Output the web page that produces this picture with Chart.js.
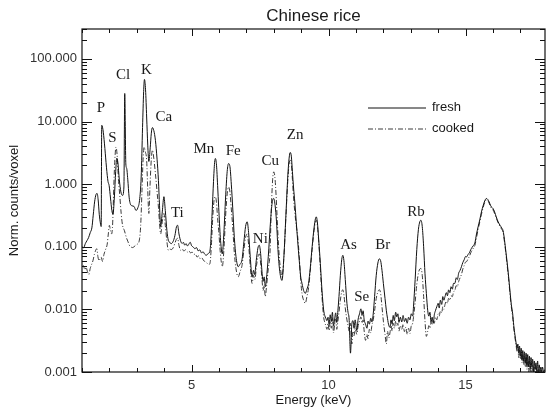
<!DOCTYPE html>
<html>
<head>
<meta charset="utf-8">
<script src="https://cdn.jsdelivr.net/npm/chart.js@4.4.1/dist/chart.umd.min.js"></script>
<style>
  body { margin: 0; background: #fff; }
  #wrap { width: 546px; height: 410px; }
</style>
</head>
<body>
<div id="wrap"><canvas id="spectrum" width="546" height="410"></canvas></div>
<script>
// fresh rice spectrum (keV, normalised counts per voxel)
const freshEnergy = [
  1.00, 1.06, 1.12, 1.18, 1.24, 1.30, 1.36, 1.41, 1.46, 1.51,
  1.55, 1.59, 1.63, 1.67, 1.70, 1.72, 1.95, 1.99, 2.04, 2.09,
  2.13, 2.18, 2.23, 2.27, 2.31, 2.36, 2.42, 2.48, 2.53, 2.56,
  2.60, 2.63, 2.67, 2.72, 2.76, 2.83, 2.90, 2.97, 3.04, 3.10,
  3.16, 3.21, 3.25, 3.28, 3.32, 3.36, 3.40, 3.44, 3.49, 3.53,
  3.57, 3.62, 3.68, 3.74, 3.79, 3.83, 3.87, 3.93, 3.99, 4.04,
  4.10, 4.15, 4.20, 4.25, 4.32, 4.39, 4.45, 4.49, 4.54, 4.61,
  4.66, 4.70, 4.75, 4.80, 4.85, 4.90, 4.95, 5.00, 5.06, 5.12,
  5.18, 5.24, 5.30, 5.36, 5.42, 5.48, 5.54, 5.60, 5.66, 5.70,
  5.75, 5.80, 5.84, 5.87, 5.91, 5.95, 5.99, 6.05, 6.12, 6.18,
  6.24, 6.30, 6.35, 6.40, 6.45, 6.50, 6.56, 6.62, 6.70, 6.76,
  6.84, 6.91, 6.97, 7.03, 7.08, 7.14, 7.21, 7.26, 7.30, 7.36,
  7.42, 7.47, 7.52, 7.57, 7.61, 7.65, 7.69, 7.73, 7.80, 7.88,
  7.94, 8.00, 8.05, 8.10, 8.16, 8.22, 8.30, 8.37, 8.44, 8.51,
  8.56, 8.60, 8.64, 8.68, 8.72, 8.77, 8.82, 8.87, 8.93, 8.98,
  9.03, 9.09, 9.15, 9.21, 9.27, 9.33, 9.40, 9.47, 9.52, 9.55,
  9.59, 9.64, 9.70, 9.76, 9.82, 9.86, 9.90, 9.94, 9.98, 10.02,
  10.06, 10.10, 10.14, 10.18, 10.22, 10.26, 10.30, 10.34, 10.38, 10.43,
  10.48, 10.52, 10.56, 10.61, 10.67, 10.71, 10.75, 10.80, 10.85, 10.89,
  10.93, 10.97, 11.03, 11.08, 11.13, 11.18, 11.22, 11.26, 11.30, 11.35,
  11.40, 11.44, 11.49, 11.54, 11.58, 11.63, 11.68, 11.74, 11.80, 11.85,
  11.90, 11.95, 12.00, 12.06, 12.11, 12.15, 12.20, 12.24, 12.28, 12.32,
  12.36, 12.40, 12.45, 12.49, 12.53, 12.57, 12.62, 12.67, 12.72, 12.77,
  12.82, 12.87, 12.92, 12.97, 13.02, 13.07, 13.10, 13.16, 13.22, 13.28,
  13.33, 13.37, 13.42, 13.47, 13.52, 13.57, 13.62, 13.66, 13.70, 13.74,
  13.78, 13.82, 13.86, 13.90, 13.95, 14.00, 14.04, 14.08, 14.13, 14.17,
  14.21, 14.25, 14.30, 14.34, 14.38, 14.43, 14.47, 14.52, 14.56, 14.61,
  14.66, 14.70, 14.75, 14.80, 14.85, 14.90, 14.95, 15.00, 15.04, 15.09,
  15.14, 15.19, 15.24, 15.29, 15.34, 15.40, 15.46, 15.52, 15.58, 15.64,
  15.70, 15.76, 15.81, 15.86, 15.91, 15.95, 16.00, 16.06, 16.12, 16.19,
  16.26, 16.32, 16.37, 16.42, 16.47, 16.52, 16.57, 16.62, 16.67, 16.72,
  16.76, 16.80, 16.84, 16.88, 16.91, 16.94, 16.97, 17.00, 17.03, 17.06,
  17.09, 17.12, 17.15, 17.18, 17.21, 17.24, 17.27, 17.30, 17.33, 17.36,
  17.39, 17.42, 17.45, 17.48, 17.51, 17.54, 17.57, 17.60, 17.63, 17.66,
  17.69, 17.72, 17.75, 17.78, 17.81, 17.85, 17.90
];
const freshCounts = [
  0.100, 0.096, 0.112, 0.125, 0.140, 0.168, 0.200, 0.32, 0.52, 0.68,
  0.71, 0.56, 0.33, 0.24, 0.21, 8.7, 1.1, 0.95, 0.60, 0.38,
  0.33, 0.60, 1.6, 2.6, 2.2, 1.2, 0.75, 0.66, 0.90, 28,
  2.1, 1.8, 1.2, 0.62, 0.49, 0.45, 0.44, 0.38, 0.42, 0.55,
  1.3, 8, 30, 47, 32, 11.8, 4.2, 2.3, 3.8, 6.5,
  8.0, 7.2, 5.0, 2.5, 1.15, 0.45, 0.21, 0.36, 0.63, 0.38,
  0.18, 0.127, 0.118, 0.112, 0.12, 0.15, 0.21, 0.22, 0.16, 0.12,
  0.113, 0.118, 0.106, 0.112, 0.103, 0.110, 0.118, 0.104, 0.099, 0.093,
  0.097, 0.086, 0.089, 0.080, 0.083, 0.076, 0.073, 0.078, 0.082, 0.12,
  0.35, 1.1, 2.2, 2.57, 2.0, 0.95, 0.42, 0.14, 0.077, 0.17,
  0.6, 1.6, 2.13, 1.9, 1.0, 0.43, 0.14, 0.07, 0.048, 0.052,
  0.062, 0.12, 0.21, 0.25, 0.17, 0.07, 0.033, 0.042, 0.036, 0.060,
  0.095, 0.106, 0.078, 0.040, 0.028, 0.033, 0.023, 0.030, 0.07, 0.25,
  0.5, 0.59, 0.45, 0.25, 0.08, 0.040, 0.029, 0.07, 0.3, 1.3,
  2.6, 3.2, 2.8, 1.6, 0.9, 0.50, 0.25, 0.127, 0.06, 0.034,
  0.026, 0.020, 0.018, 0.021, 0.026, 0.045, 0.10, 0.20, 0.28, 0.30,
  0.25, 0.13, 0.054, 0.020, 0.0098, 0.008, 0.0072, 0.0066, 0.0075, 0.0058,
  0.0082, 0.0064, 0.0090, 0.0055, 0.0070, 0.0088, 0.0062, 0.0095, 0.016, 0.035,
  0.062, 0.073, 0.060, 0.030, 0.0125, 0.0090, 0.0070, 0.0020, 0.0059, 0.0066,
  0.0050, 0.0068, 0.0046, 0.0070, 0.0085, 0.0102, 0.0080, 0.0095, 0.0068, 0.0058,
  0.0050, 0.0065, 0.0058, 0.0072, 0.0063, 0.0085, 0.016, 0.035, 0.055, 0.064,
  0.060, 0.042, 0.026, 0.0150, 0.0095, 0.0072, 0.0055, 0.0052, 0.0068, 0.0058,
  0.0080, 0.0066, 0.0090, 0.0076, 0.0085, 0.0062, 0.0075, 0.0063, 0.0080, 0.0064,
  0.0072, 0.0060, 0.0075, 0.0068, 0.0085, 0.0078, 0.0110, 0.030, 0.090, 0.19,
  0.25, 0.265, 0.21, 0.10, 0.037, 0.018, 0.0095, 0.0078, 0.0090, 0.0062,
  0.0075, 0.0060, 0.0082, 0.0095, 0.0110, 0.0125, 0.0105, 0.0140, 0.0120, 0.0160,
  0.0140, 0.0160, 0.0185, 0.0165, 0.0205, 0.0185, 0.0230, 0.0210, 0.0260, 0.026,
  0.032, 0.030, 0.038, 0.042, 0.048, 0.056, 0.062, 0.070, 0.069, 0.075,
  0.080, 0.090, 0.098, 0.105, 0.115, 0.16, 0.21, 0.27, 0.36, 0.45,
  0.54, 0.59, 0.57, 0.52, 0.46, 0.43, 0.41, 0.36, 0.30, 0.25,
  0.22, 0.20, 0.18, 0.13, 0.085, 0.055, 0.034, 0.020, 0.012, 0.0085,
  0.0055, 0.0040, 0.0030, 0.0024, 0.0028, 0.0020, 0.0026, 0.0018, 0.0024, 0.0016,
  0.0022, 0.0015, 0.0021, 0.0014, 0.0020, 0.0013, 0.0019, 0.0012, 0.0018, 0.0011,
  0.0017, 0.0012, 0.0016, 0.0010, 0.0015, 0.0011, 0.0014, 0.0010, 0.0015, 0.0010,
  0.0013, 0.0010, 0.0012, 0.0010, 0.0012, 0.0010, 0.0011
];

// cooked rice spectrum
const cookedEnergy = [
  1.00, 1.05, 1.10, 1.15, 1.20, 1.25, 1.30, 1.35, 1.40, 1.45,
  1.50, 1.54, 1.58, 1.62, 1.66, 1.70, 1.75, 1.80, 1.86, 1.92,
  1.96, 2.00, 2.04, 2.08, 2.12, 2.16, 2.20, 2.24, 2.28, 2.33,
  2.38, 2.43, 2.48, 2.55, 2.62, 2.68, 2.72, 2.78, 2.84, 2.90,
  2.96, 3.02, 3.08, 3.14, 3.19, 3.23, 3.27, 3.31, 3.36, 3.40,
  3.44, 3.48, 3.53, 3.57, 3.62, 3.68, 3.74, 3.79, 3.83, 3.87,
  3.93, 3.99, 4.04, 4.10, 4.15, 4.20, 4.26, 4.32, 4.38, 4.44,
  4.49, 4.54, 4.60, 4.66, 4.72, 4.78, 4.84, 4.90, 4.96, 5.02,
  5.08, 5.14, 5.20, 5.26, 5.32, 5.38, 5.44, 5.50, 5.56, 5.62,
  5.67, 5.72, 5.77, 5.82, 5.87, 5.91, 5.95, 5.99, 6.05, 6.12,
  6.18, 6.24, 6.30, 6.35, 6.40, 6.45, 6.50, 6.56, 6.62, 6.70,
  6.77, 6.84, 6.91, 6.97, 7.03, 7.08, 7.14, 7.21, 7.26, 7.31,
  7.37, 7.42, 7.47, 7.52, 7.57, 7.61, 7.65, 7.69, 7.73, 7.80,
  7.86, 7.91, 7.96, 8.00, 8.04, 8.09, 8.14, 8.20, 8.26, 8.30,
  8.37, 8.44, 8.51, 8.56, 8.60, 8.64, 8.68, 8.72, 8.77, 8.82,
  8.87, 8.93, 8.98, 9.03, 9.09, 9.15, 9.21, 9.27, 9.33, 9.40,
  9.47, 9.52, 9.55, 9.59, 9.64, 9.70, 9.76, 9.82, 9.86, 9.90,
  9.94, 9.98, 10.02, 10.06, 10.10, 10.14, 10.18, 10.22, 10.26, 10.30,
  10.34, 10.38, 10.43, 10.48, 10.52, 10.56, 10.61, 10.67, 10.71, 10.75,
  10.80, 10.85, 10.89, 10.93, 10.97, 11.03, 11.08, 11.13, 11.18, 11.22,
  11.26, 11.30, 11.35, 11.40, 11.44, 11.49, 11.54, 11.58, 11.63, 11.68,
  11.74, 11.80, 11.85, 11.90, 11.95, 12.00, 12.06, 12.11, 12.15, 12.20,
  12.24, 12.28, 12.32, 12.36, 12.40, 12.45, 12.49, 12.53, 12.57, 12.62,
  12.67, 12.72, 12.77, 12.82, 12.87, 12.92, 12.97, 13.02, 13.07, 13.10,
  13.16, 13.22, 13.28, 13.33, 13.37, 13.42, 13.47, 13.52, 13.57, 13.62,
  13.66, 13.70, 13.74, 13.78, 13.82, 13.86, 13.90, 13.95, 14.00, 14.04,
  14.08, 14.13, 14.17, 14.21, 14.25, 14.30, 14.34, 14.38, 14.43, 14.47,
  14.52, 14.56, 14.61, 14.66, 14.70, 14.75, 14.80, 14.85, 14.90, 14.95,
  15.00, 15.04, 15.09, 15.14, 15.19, 15.24, 15.29, 15.34, 15.40, 15.46,
  15.52, 15.58, 15.64, 15.70, 15.76, 15.81, 15.86, 15.91, 15.95, 16.00,
  16.06, 16.12, 16.19, 16.26, 16.32, 16.37, 16.42, 16.47, 16.52, 16.57,
  16.62, 16.67, 16.72, 16.76, 16.80, 16.84, 16.88, 16.91, 16.94, 16.97,
  17.00, 17.03, 17.06, 17.09, 17.12, 17.15, 17.18, 17.21, 17.24, 17.27,
  17.30, 17.33, 17.36, 17.39, 17.42, 17.45, 17.48, 17.51, 17.54, 17.57,
  17.60, 17.63, 17.66, 17.69, 17.72, 17.75, 17.78, 17.81, 17.85, 17.90
];
const cookedCounts = [
  0.048, 0.050, 0.043, 0.047, 0.040, 0.036, 0.045, 0.052, 0.060, 0.075,
  0.088, 0.093, 0.070, 0.060, 0.064, 0.068, 0.058, 0.075, 0.090, 0.11,
  0.16, 0.22, 0.18, 0.16, 0.24, 0.9, 2.5, 3.9, 3.0, 1.2,
  0.65, 0.34, 0.22, 0.18, 0.14, 0.12, 0.107, 0.10, 0.097, 0.10,
  0.106, 0.11, 0.12, 0.21, 0.8, 2.5, 3.9, 3.3, 2.4, 0.8,
  0.34, 0.9, 2.5, 3.5, 2.6, 1.47, 0.75, 0.43, 0.24, 0.16,
  0.25, 0.34, 0.22, 0.12, 0.088, 0.092, 0.090, 0.095, 0.110, 0.130,
  0.137, 0.105, 0.088, 0.092, 0.085, 0.090, 0.082, 0.086, 0.080, 0.082,
  0.075, 0.077, 0.068, 0.072, 0.064, 0.066, 0.060, 0.058, 0.055, 0.052,
  0.054, 0.10, 0.28, 0.55, 0.63, 0.50, 0.28, 0.18, 0.08, 0.048,
  0.09, 0.3, 0.7, 0.90, 0.75, 0.40, 0.21, 0.08, 0.045, 0.033,
  0.040, 0.050, 0.09, 0.14, 0.16, 0.11, 0.050, 0.026, 0.035, 0.030,
  0.050, 0.068, 0.077, 0.055, 0.030, 0.020, 0.024, 0.016, 0.022, 0.045,
  0.077, 0.4, 1.2, 1.57, 1.3, 0.6, 0.20, 0.070, 0.040, 0.033,
  0.07, 0.28, 1.1, 2.1, 2.4, 2.1, 1.2, 0.63, 0.35, 0.22,
  0.15, 0.07, 0.030, 0.018, 0.014, 0.0125, 0.016, 0.022, 0.04, 0.09,
  0.18, 0.25, 0.265, 0.22, 0.12, 0.045, 0.016, 0.0076, 0.0062, 0.0055,
  0.0048, 0.0060, 0.0046, 0.0065, 0.0050, 0.0072, 0.0042, 0.0056, 0.0070, 0.0048,
  0.0065, 0.0090, 0.014, 0.019, 0.0206, 0.017, 0.0105, 0.0068, 0.0055, 0.0045,
  0.0060, 0.0028, 0.0045, 0.0038, 0.0050, 0.0040, 0.0055, 0.0065, 0.0076, 0.0060,
  0.0068, 0.0045, 0.0032, 0.0040, 0.0034, 0.0048, 0.0042, 0.0055, 0.0068, 0.0095,
  0.015, 0.019, 0.0206, 0.018, 0.011, 0.0065, 0.0040, 0.0028, 0.0045, 0.0035,
  0.0042, 0.0055, 0.0045, 0.0060, 0.0050, 0.0065, 0.0055, 0.0060, 0.0045, 0.0055,
  0.0048, 0.0058, 0.0044, 0.0052, 0.0040, 0.0050, 0.0041, 0.0055, 0.0060, 0.0075,
  0.013, 0.025, 0.038, 0.044, 0.045, 0.035, 0.016, 0.0065, 0.0037, 0.0045,
  0.0055, 0.0050, 0.0062, 0.0058, 0.0068, 0.0060, 0.0075, 0.0068, 0.0085, 0.0078,
  0.0095, 0.0088, 0.0110, 0.0100, 0.0120, 0.0135, 0.0125, 0.0150, 0.0140, 0.0165,
  0.0160, 0.0190, 0.020, 0.024, 0.023, 0.028, 0.032, 0.036, 0.044, 0.050,
  0.057, 0.058, 0.064, 0.070, 0.080, 0.088, 0.096, 0.105, 0.14, 0.19,
  0.25, 0.33, 0.42, 0.51, 0.56, 0.55, 0.50, 0.44, 0.41, 0.39,
  0.34, 0.29, 0.24, 0.21, 0.19, 0.17, 0.12, 0.080, 0.050, 0.031,
  0.018, 0.011, 0.0075, 0.0050, 0.0036, 0.0028, 0.0021, 0.0025, 0.0017, 0.0023,
  0.0016, 0.0021, 0.0014, 0.0019, 0.0013, 0.0018, 0.0012, 0.0017, 0.0011, 0.0016,
  0.0010, 0.0015, 0.0010, 0.0014, 0.0010, 0.0013, 0.0009, 0.0012, 0.0009, 0.0012,
  0.0009, 0.0011, 0.0009, 0.0011, 0.0009, 0.0010, 0.0009, 0.0010, 0.0009, 0.0010
];

// element labels: where each name sits (energy, counts)
const elementNames = ['P', 'S', 'Cl', 'K', 'Ca', 'Ti', 'Mn', 'Fe', 'Ni', 'Cu', 'Zn', 'As', 'Se', 'Br', 'Rb'];
const labelEnergy = [1.69, 2.11, 2.50, 3.35, 3.99, 4.48, 5.45, 6.52, 7.51, 7.87, 8.78, 10.73, 11.21, 11.98, 13.19];
const labelCounts = [16.3, 5.5, 55, 66, 11.6, 0.347, 3.6, 3.4, 0.135, 2.35, 6.0, 0.106, 0.0155, 0.106, 0.36];

const yDecades = [0.001, 0.01, 0.1, 1, 10, 100];

const sans = "'Liberation Sans', Arial, sans-serif";
const serif = "'Liberation Serif', 'Times New Roman', serif";
const textColor = '#1a1a1a';

function toPoints(energy, counts) {
    return energy.map((e, i) => ({ x: e, y: counts[i] }));
}

function isDecade(v) {
    return yDecades.some(d => Math.abs(v / d - 1) < 1e-6);
}

const framePlugin = {
    id: 'frame',
    afterDraw(chart) {
        const ctx = chart.ctx;
        const area = chart.chartArea;
        const xs = chart.scales.x;
        const ys = chart.scales.y;
        ctx.save();

        ctx.strokeStyle = '#111';
        ctx.lineWidth = 1.2;
        ctx.strokeRect(area.left, area.top, area.right - area.left, area.bottom - area.top);

        // inward tick marks on all four sides
        ctx.lineWidth = 1;
        ctx.beginPath();
        for (let e = Math.ceil(xs.min); e <= xs.max; e++) {
            const px = Math.round(xs.getPixelForValue(e)) + 0.5;
            const len = e % 5 === 0 ? 7 : 4;
            ctx.moveTo(px, area.bottom); ctx.lineTo(px, area.bottom - len);
            ctx.moveTo(px, area.top); ctx.lineTo(px, area.top + len);
        }
        yDecades.forEach(d => {
            for (let m = 1; m <= 9; m++) {
                const v = m * d;
                if (v < ys.min || v > ys.max) continue;
                const py = Math.round(ys.getPixelForValue(v)) + 0.5;
                const len = m === 1 ? 10 : 5;
                ctx.moveTo(area.left, py); ctx.lineTo(area.left + len, py);
                ctx.moveTo(area.right, py); ctx.lineTo(area.right - len, py);
            }
        });
        ctx.stroke();

        ctx.fillStyle = textColor;
        ctx.textAlign = 'center';
        ctx.textBaseline = 'middle';

        // title and axis titles
        const midX = (area.left + area.right) / 2;
        ctx.font = '17px ' + sans;
        ctx.fillText('Chinese rice', midX, 16);
        ctx.font = '13px ' + sans;
        ctx.fillText('Energy (keV)', midX, 400);
        ctx.save();
        ctx.translate(14, (area.top + area.bottom) / 2);
        ctx.rotate(-Math.PI / 2);
        ctx.fillText('Norm. counts/voxel', 0, 0);
        ctx.restore();

        // element names
        ctx.font = '15px ' + serif;
        elementNames.forEach((name, i) => {
            ctx.fillText(name, xs.getPixelForValue(labelEnergy[i]), ys.getPixelForValue(labelCounts[i]));
        });

        // legend
        ctx.font = '13px ' + sans;
        ctx.textAlign = 'left';
        chart.data.datasets.forEach((ds, i) => {
            const y = area.top + 79 + i * 21;
            ctx.strokeStyle = ds.borderColor;
            ctx.lineWidth = 1;
            ctx.setLineDash(ds.borderDash || []);
            ctx.beginPath();
            ctx.moveTo(area.right - 177, y);
            ctx.lineTo(area.right - 119, y);
            ctx.stroke();
            ctx.setLineDash([]);
            ctx.fillText(ds.label, area.right - 113, y - 1);
        });

        ctx.restore();
    }
};

new Chart(document.getElementById('spectrum'), {
    type: 'line',
    data: {
        datasets: [{
            label: 'fresh',
            data: toPoints(freshEnergy, freshCounts),
            borderColor: '#111',
            borderWidth: 1,
            pointRadius: 0,
            cubicInterpolationMode: 'monotone'
        }, {
            label: 'cooked',
            data: toPoints(cookedEnergy, cookedCounts),
            borderColor: '#3a3a3a',
            borderWidth: 1,
            borderDash: [5, 2, 1, 2],
            pointRadius: 0,
            cubicInterpolationMode: 'monotone'
        }]
    },
    options: {
        responsive: false,
        animation: false,
        layout: { padding: { top: 29, right: 1, left: 0, bottom: 0 } },
        plugins: {
            legend: { display: false },
            tooltip: { enabled: false }
        },
        scales: {
            x: {
                type: 'linear',
                min: 1,
                max: 17.9,
                grid: { display: false, drawTicks: false },
                border: { display: false },
                ticks: {
                    stepSize: 1,
                    autoSkip: false,
                    maxRotation: 0,
                    padding: 6,
                    color: '#333',
                    font: { family: sans, size: 13 },
                    callback: v => (v % 5 === 0 ? v : '')
                },
                afterFit: s => {
                    s.height = 38;
                    s.paddingLeft = 0;
                    s.paddingRight = 0;
                }
            },
            y: {
                type: 'logarithmic',
                min: 0.001,
                max: 300,
                grid: { display: false, drawTicks: false },
                border: { display: false },
                ticks: {
                    autoSkip: false,
                    padding: 5,
                    color: '#333',
                    font: { family: sans, size: 13 },
                    callback: v => (isDecade(v) ? v.toFixed(3) : '')
                },
                afterFit: s => { s.width = 82; }
            }
        }
    },
    plugins: [framePlugin]
});
</script>
</body>
</html>
